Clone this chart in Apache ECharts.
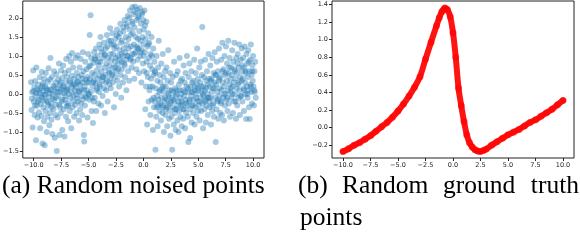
<!DOCTYPE html>
<html><head><meta charset="utf-8">
<script src="https://cdn.jsdelivr.net/npm/echarts@6/dist/echarts.min.js"></script>
<style>html,body{margin:0;padding:0;background:#fff}#c{width:580px;height:240px}</style>
</head><body><div id="c"></div>
<script>
const xTicks = [-10, -7.5, -5, -2.5, 0, 2.5, 5, 7.5, 10];
const yTicksNoised = [-1.5, -1, -0.5, 0, 0.5, 1, 1.5, 2];
const yTicksTruth = [-0.2, 0, 0.2, 0.4, 0.6, 0.8, 1.0, 1.2, 1.4];

const noisedPoints = [
[-10.25,0.31],[-10.2,-0.42],[-10.15,0.05],[-10.1,-0.88],[-10.05,0.62],[-10.0,-0.2],[-9.95,0.18],[-9.92,-0.55],[-9.88,0.34],[-9.85,-0.05],[-9.8,-1.22],[-9.76,0.7],[-9.72,-0.31],[-9.7,0.12],[-9.65,-0.62],[-9.6,0.25],[-9.56,-0.15],[-9.52,-0.48],
[-9.48,0.02],[-9.45,0.44],[-9.42,-0.9],[-9.38,-0.26],[-9.35,0.15],[-9.3,-0.58],[-9.27,0.58],[-9.24,-0.1],[-9.2,-1.3],[-9.17,0.28],[-9.12,-0.35],[-9.1,0.08],[-9.06,-0.72],[-9.04,0.4],[-9.02,-0.02],[-9.0,-1.35],
[-8.97,0.2],[-8.93,-0.45],[-8.9,0.55],[-8.86,-0.18],[-8.82,-1.0],[-8.8,0.1],[-8.76,-0.6],[-8.72,0.32],[-8.68,-0.3],[-8.65,0.68],[-8.6,-0.08],[-8.58,-0.82],[-8.55,0.02],[-8.52,0.38],[-8.5,-0.5],
[-8.48,0.95],[-8.45,-0.25],[-8.42,0.12],[-8.38,-0.68],[-8.35,0.45],[-8.3,-1.05],[-8.27,-0.12],[-8.22,0.22],[-8.2,-0.4],[-8.15,0.6],[-8.12,-0.15],[-8.08,-1.15],[-8.05,0.05],[-8.02,-0.55],[-8.0,0.3],
[-7.97,-0.28],[-7.93,0.52],[-7.9,-1.5],[-7.86,0.15],[-7.82,-0.62],[-7.78,0.38],[-7.75,-0.05],[-7.7,0.8],[-7.66,-1.08],[-7.62,0.25],[-7.6,-0.35],[-7.56,0.05],[-7.53,-0.5],[-7.51,0.62],[-7.5,0.12],
[-7.46,-0.2],[-7.42,0.42],[-7.4,-0.95],[-7.36,0.18],[-7.32,0.75],[-7.28,-0.4],[-7.25,0.02],[-7.2,-1.12],[-7.16,0.55],[-7.12,-0.15],[-7.1,0.3],[-7.06,-0.6],[-7.04,0.92],[-7.02,0.08],[-7.0,-0.32],
[-6.97,0.45],[-6.93,-0.25],[-6.9,0.15],[-6.86,-0.72],[-6.82,0.62],[-6.8,0.0],[-6.76,1.0],[-6.72,-0.45],[-6.68,0.3],[-6.65,-0.1],[-6.6,0.85],[-6.58,-0.9],[-6.55,0.2],[-6.52,0.48],[-6.5,1.08],
[-6.47,-0.35],[-6.44,0.25],[-6.4,0.7],[-6.36,-0.05],[-6.32,-0.6],[-6.3,0.4],[-6.26,0.1],[-6.22,-0.28],[-6.18,0.95],[-6.15,0.18],[-6.1,-0.5],[-6.08,0.55],[-6.04,-0.12],[-6.02,0.32],[-6.0,1.02],
[-5.97,-0.2],[-5.94,0.45],[-5.9,0.05],[-5.86,-0.7],[-5.82,0.7],[-5.8,0.25],[-5.76,-0.4],[-5.72,0.92],[-5.68,0.12],[-5.65,-0.05],[-5.62,0.5],[-5.58,-0.55],[-5.55,0.3],[-5.52,1.1],[-5.5,-0.15],
[-5.46,0.6],[-5.43,-1.08],[-5.4,-1.25],[-5.37,0.2],[-5.33,-0.3],[-5.3,0.85],[-5.26,0.38],[-5.22,-0.1],[-5.18,0.65],[-5.15,0.1],[-5.1,-0.62],[-5.08,0.45],[-5.04,1.05],[-5.02,0.0],[-5.0,0.3],
[-4.96,0.72],[-4.92,-0.15],[-4.9,1.55],[-4.86,0.4],[-4.82,2.07],[-4.8,0.05],[-4.76,0.95],[-4.72,-0.45],[-4.68,0.55],[-4.64,0.2],[-4.6,-0.76],[-4.57,0.82],[-4.54,0.35],[-4.52,-0.2],[-4.5,1.1],
[-4.47,0.5],[-4.43,-0.1],[-4.4,0.9],[-4.36,0.28],[-4.32,1.2],[-4.3,-0.45],[-4.26,0.62],[-4.22,0.15],[-4.18,1.0],[-4.15,0.4],[-4.1,-0.25],[-4.08,0.75],[-4.04,0.05],[-4.02,1.3],[-4.0,0.48],
[-3.97,0.2],[-3.93,0.85],[-3.9,1.5],[-3.86,-0.3],[-3.82,0.6],[-3.8,1.1],[-3.76,0.35],[-3.72,-0.05],[-3.68,0.95],[-3.65,0.45],[-3.6,1.35],[-3.58,0.15],[-3.55,0.7],[-3.52,-0.5],[-3.5,1.02],
[-3.46,0.5],[-3.43,1.2],[-3.4,0.1],[-3.37,0.8],[-3.33,1.55],[-3.3,0.35],[-3.26,-0.2],[-3.22,0.95],[-3.18,0.62],[-3.15,1.4],[-3.1,0.25],[-3.08,0.75],[-3.04,1.73],[-3.02,0.4],[-3.0,1.05],
[-2.97,0.15],[-2.94,0.9],[-2.9,1.3],[-2.86,0.55],[-2.82,1.6],[-2.8,0.3],[-2.76,1.05],[-2.72,0.7],[-2.68,-0.35],[-2.65,1.2],[-2.6,0.85],[-2.58,0.45],[-2.55,1.45],[-2.52,0.0],[-2.5,0.95],
[-2.46,1.25],[-2.43,0.6],[-2.4,1.7],[-2.37,0.35],[-2.33,1.0],[-2.3,0.78],[-2.26,1.5],[-2.22,0.2],[-2.18,1.15],[-2.15,0.9],[-2.1,1.85],[-2.08,0.5],[-2.04,1.35],[-2.02,-0.1],[-2.0,1.05],
[-1.97,0.65],[-1.94,1.4],[-1.9,1.0],[-1.86,0.3],[-1.82,1.65],[-1.8,1.2],[-1.76,0.8],[-1.72,1.95],[-1.68,0.45],[-1.65,1.1],[-1.6,1.5],[-1.58,0.9],[-1.55,0.1],[-1.52,1.3],[-1.5,1.78],
[-1.46,1.0],[-1.43,2.05],[-1.4,0.6],[-1.37,1.45],[-1.33,1.2],[-1.3,0.35],[-1.26,1.7],[-1.22,2.2],[-1.18,0.9],[-1.15,1.55],[-1.1,1.25],[-1.08,0.7],[-1.04,1.9],[-1.02,1.05],[-1.0,2.28],
[-0.97,1.6],[-0.94,0.85],[-0.9,2.1],[-0.87,1.3],[-0.83,0.4],[-0.8,1.75],[-0.76,2.3],[-0.72,1.1],[-0.68,1.5],[-0.65,0.65],[-0.6,1.95],[-0.58,1.25],[-0.55,2.22],[-0.52,0.9],[-0.5,1.45],
[-0.47,2.0],[-0.43,1.2],[-0.4,0.55],[-0.37,1.65],[-0.33,2.26],[-0.3,1.0],[-0.26,1.4],[-0.22,1.85],[-0.18,0.3],[-0.15,1.15],[-0.1,2.15],[-0.08,1.5],[-0.04,0.8],[-0.02,1.95],[0.0,1.3],
[0.03,1.7],[0.06,0.6],[0.1,2.2],[0.13,1.1],[0.17,-0.4],[0.2,1.45],[0.24,0.2],[0.27,1.9],[0.3,0.85],[0.34,-0.8],[0.37,1.25],[0.4,0.45],[0.44,1.6],[0.47,-0.2],[0.5,0.95],
[0.53,1.35],[0.56,0.1],[0.6,0.75],[0.63,-0.55],[0.67,1.05],[0.7,0.4],[0.74,1.5],[0.77,-0.15],[0.8,0.65],[0.84,0.2],[0.87,-0.95],[0.9,1.2],[0.94,0.5],[0.97,-0.35],[1.0,0.85],
[1.03,-0.2],[1.06,0.6],[1.1,-1.47],[1.13,0.15],[1.17,-0.6],[1.2,1.0],[1.24,-0.05],[1.27,0.35],[1.3,-0.85],[1.34,0.7],[1.37,-0.3],[1.4,1.4],[1.44,0.05],[1.47,-0.45],[1.5,0.5],
[1.53,-0.25],[1.56,0.3],[1.6,-0.7],[1.63,0.8],[1.67,-0.1],[1.7,0.15],[1.74,-0.5],[1.77,1.05],[1.8,-0.35],[1.84,0.45],[1.87,-1.0],[1.9,0.05],[1.94,-0.2],[1.97,0.6],[2.0,-0.55],
[2.03,0.2],[2.06,-0.4],[2.1,0.7],[2.13,-0.15],[2.17,-0.85],[2.2,0.35],[2.24,-0.3],[2.27,1.15],[2.3,-0.05],[2.34,-0.65],[2.37,0.1],[2.4,-0.45],[2.44,0.55],[2.47,-1.1],[2.5,-0.2],
[2.53,0.3],[2.56,-0.6],[2.6,-0.1],[2.63,-1.47],[2.67,0.45],[2.7,-0.35],[2.74,0.05],[2.77,-0.8],[2.8,0.85],[2.84,-0.2],[2.87,-0.5],[2.9,0.15],[2.94,-0.95],[2.97,-0.05],[3.0,0.5],
[3.03,-0.4],[3.06,0.1],[3.1,-0.7],[3.13,0.6],[3.17,-0.2],[3.2,-1.0],[3.24,0.25],[3.27,-0.45],[3.3,0.95],[3.34,-0.1],[3.37,-0.6],[3.4,0.35],[3.44,-0.3],[3.47,0.0],[3.5,-0.85],
[3.53,0.4],[3.56,-0.25],[3.6,0.1],[3.63,-0.65],[3.67,0.75],[3.7,-0.4],[3.74,-0.05],[3.77,0.3],[3.8,-0.9],[3.84,0.55],[3.87,-0.15],[3.9,-0.5],[3.94,0.2],[3.97,1.0],[4.0,-0.3],
[4.03,0.05],[4.06,-0.6],[4.1,-1.26],[4.13,0.45],[4.17,-0.2],[4.2,0.8],[4.24,-0.4],[4.27,-1.16],[4.3,0.2],[4.34,-0.05],[4.37,0.6],[4.4,-0.75],[4.44,0.3],[4.47,-0.3],[4.5,0.05],
[4.53,-0.5],[4.56,0.35],[4.6,-0.15],[4.63,0.9],[4.67,-0.8],[4.7,0.1],[4.74,-0.35],[4.77,0.55],[4.8,0.0],[4.84,-0.6],[4.87,0.25],[4.9,1.2],[4.94,-0.2],[4.97,0.4],[5.0,-0.45],
[5.03,0.15],[5.06,-0.3],[5.1,0.7],[5.13,-0.7],[5.17,0.3],[5.2,-0.1],[5.24,0.85],[5.27,-0.45],[5.3,0.05],[5.34,0.5],[5.37,1.76],[5.4,-0.25],[5.44,-0.9],[5.47,0.2],[5.5,-0.05],
[5.53,0.45],[5.56,-0.4],[5.6,0.1],[5.63,0.9],[5.67,-0.15],[5.7,-0.75],[5.74,0.35],[5.77,-0.3],[5.8,0.6],[5.84,0.0],[5.87,-0.55],[5.9,0.25],[5.94,1.05],[5.97,-0.1],[6.0,0.4],
[6.03,-0.35],[6.06,0.2],[6.1,0.75],[6.13,-0.1],[6.17,-0.8],[6.2,0.4],[6.24,0.05],[6.27,-0.45],[6.3,0.95],[6.34,0.15],[6.37,-0.25],[6.4,0.55],[6.44,-0.6],[6.47,0.3],[6.5,1.1],
[6.53,-0.1],[6.56,0.5],[6.6,-1.26],[6.63,0.25],[6.67,-0.4],[6.7,0.85],[6.74,0.05],[6.77,-0.2],[6.8,0.6],[6.84,-0.65],[6.87,0.35],[6.9,1.2],[6.94,-0.05],[6.97,0.15],[7.0,-0.5],
[7.03,0.45],[7.06,-0.2],[7.1,0.9],[7.13,0.1],[7.17,-0.55],[7.2,1.35],[7.24,0.3],[7.27,-0.1],[7.3,0.65],[7.34,-0.7],[7.37,0.2],[7.4,1.0],[7.44,-0.3],[7.47,0.5],[7.5,0.0],
[7.53,1.25],[7.56,-0.15],[7.6,0.35],[7.63,0.8],[7.67,-0.45],[7.7,0.1],[7.74,1.4],[7.77,0.55],[7.8,-0.25],[7.84,0.25],[7.87,0.95],[7.9,-0.6],[7.94,0.4],[7.97,0.05],[8.0,0.7],
[8.03,-0.1],[8.06,0.5],[8.1,1.15],[8.13,0.2],[8.17,-0.5],[8.2,0.85],[8.24,0.3],[8.27,-0.2],[8.3,1.35],[8.34,0.6],[8.37,0.0],[8.4,0.4],[8.44,-0.65],[8.47,0.95],[8.5,0.15],
[8.53,0.55],[8.56,-0.3],[8.6,1.05],[8.63,0.25],[8.67,-0.1],[8.7,0.7],[8.74,1.3],[8.77,0.1],[8.8,-0.55],[8.84,0.45],[8.87,0.9],[8.9,-0.05],[8.94,0.35],[8.97,1.2],[9.0,0.6],
[9.03,-0.2],[9.06,0.4],[9.1,0.95],[9.13,0.15],[9.17,-0.45],[9.2,0.7],[9.24,1.25],[9.27,0.3],[9.3,0.0],[9.34,0.55],[9.37,-0.66],[9.4,1.05],[9.44,0.2],[9.47,0.8],[9.5,-0.1],
[9.53,0.45],[9.56,1.15],[9.6,0.1],[9.63,-0.35],[9.67,0.6],[9.7,-0.66],[9.74,0.9],[9.77,0.25],[9.8,1.3],[9.84,0.05],[9.87,0.5],[9.9,-0.25],[9.94,0.75],[9.97,0.35],[10.0,1.0],
[10.04,0.2],[10.08,-0.3],[10.12,0.6],[10.16,0.05],[10.2,0.85],[10.25,-0.1],
[-10.18,-0.12],[-10.02,0.08],[-9.9,-0.3],[-9.78,0.02],[-9.62,-0.2],[-9.5,0.1],[-9.33,-0.05],[-9.22,0.22],[-9.08,-0.18],[-8.95,-0.02],[-8.84,0.15],[-8.7,-0.22],[-8.57,0.1],[-8.4,-0.35],[-8.25,0.0],[-8.1,0.18],[-7.95,-0.1],[-7.8,0.05],[-7.68,-0.28],[-7.55,0.3],[-7.4,-0.15],[-7.26,0.2],[-7.14,-0.05],[-6.98,0.12],[-6.85,-0.3],[-6.7,0.35],[-6.56,0.05],[-6.42,-0.2],[-6.28,0.25],[-6.12,-0.02],[-5.98,0.3],[-5.84,0.08],[-5.7,-0.25],[-5.56,0.4],[-5.42,0.1],[-5.28,-0.05],[-5.12,0.3],
[-4.98,0.0],[-4.84,0.75],[-4.7,-0.1],[-4.56,0.3],[-4.42,0.95],[-4.28,0.1],[-4.12,0.85],[-3.98,0.25],[-3.84,1.2],[-3.7,0.45],[-3.56,1.05],[-3.42,0.3],[-3.28,1.25],[-3.12,0.55],[-2.98,1.4],[-2.84,0.5],[-2.7,1.3],[-2.56,0.7],[-2.42,1.55],[-2.28,0.65],[-2.14,1.6],[-1.98,0.85],[-1.84,1.75],[-1.7,0.75],[-1.56,1.85],[-1.42,1.0],[-1.28,2.0],[-1.14,0.95],[-0.98,1.85],[-0.84,1.05],[-0.7,2.15],[-0.56,1.2],[-0.42,2.05],[-0.28,1.1],[-0.14,2.1],[0.02,1.0],[0.16,1.8],[0.3,0.55],[0.46,1.3],[0.62,0.2],[0.78,1.0],[0.92,-0.1],[1.08,0.55],[1.22,-0.35],
[1.38,-0.15],[1.52,0.1],[1.68,-0.3],[1.82,0.2],[1.98,-0.1],[2.12,-0.35],[2.28,0.0],[2.42,-0.25],[2.58,0.1],[2.72,-0.15],[2.88,-0.4],[3.02,0.0],[3.18,-0.3],[3.32,0.1],[3.48,-0.2],[3.62,-0.4],[3.78,0.05],[3.92,-0.25],[4.08,0.15],[4.22,-0.15],[4.38,0.05],[4.52,-0.3],[4.68,0.2],[4.82,-0.1],[4.98,0.1],[5.12,-0.2],[5.28,0.2],[5.42,0.0],[5.58,-0.2],[5.72,0.15],[5.88,-0.1],
[6.02,-0.2],[6.18,0.35],[6.32,-0.3],[6.48,0.15],[6.62,0.5],[6.78,-0.15],[6.92,0.4],[7.08,-0.25],[7.22,0.6],[7.38,0.0],[7.52,0.55],[7.68,-0.1],[7.82,0.7],[7.98,0.15],[8.12,0.0],[8.28,0.65],[8.42,-0.2],[8.58,0.8],[8.72,0.3],[8.88,-0.05],[9.02,0.75],[9.18,0.1],[9.32,0.6],[9.48,0.0],[9.62,0.85],[9.78,0.2],[9.92,0.6],[10.1,0.1]
];

const truthX = [-10,-9.5,-9,-8.5,-8,-7.5,-7,-6.5,-6,-5.5,-5,-4.5,-4,-3.5,-3,-2.5,-2,-1.5,-1.25,-1,-0.75,-0.5,-0.25,0,0.25,0.5,0.75,1,1.25,1.5,1.75,2,2.25,2.5,2.75,3,3.5,4,4.5,5,5.5,6,6.5,7,7.5,8,8.5,9,9.5,10];
const truthY = [-0.27,-0.24,-0.2,-0.17,-0.13,-0.09,-0.04,0.01,0.06,0.12,0.19,0.27,0.36,0.46,0.58,0.78,0.97,1.16,1.25,1.32,1.36,1.34,1.26,1.08,0.8,0.45,0.25,0.07,-0.08,-0.17,-0.22,-0.25,-0.265,-0.27,-0.26,-0.245,-0.2,-0.16,-0.12,-0.08,-0.05,-0.02,0.02,0.06,0.09,0.13,0.17,0.21,0.26,0.31];

const captionA = '(a) Random noised points';
const captionBWords = ['(b)', 'Random', 'ground', 'truth'];
const captionBLine2 = 'points';

const fmt = v => (v < 0 ? '\u2212' : '') + Math.abs(v).toFixed(1);
const tickFont = { fontSize: 6.5, color: '#222', fontFamily: 'DejaVu Sans' };

function xAxisFor(gi) {
  return {
    gridIndex: gi, type: 'value', min: -11, max: 11,
    splitLine: { show: false },
    axisLine: { show: false, onZero: false },
    axisTick: { show: true, inside: false, length: 3, customValues: xTicks, lineStyle: { color: '#222', width: 1 } },
    axisLabel: Object.assign({ customValues: xTicks, formatter: fmt, margin: 4 }, tickFont)
  };
}
function yAxisFor(gi, min, max, ticks) {
  return {
    gridIndex: gi, type: 'value', min: min, max: max,
    splitLine: { show: false },
    axisLine: { show: false, onZero: false },
    axisTick: { show: true, inside: false, length: 3, customValues: ticks, lineStyle: { color: '#222', width: 1 } },
    axisLabel: Object.assign({ customValues: ticks, formatter: fmt, margin: 4 }, tickFont)
  };
}

const chart = echarts.init(document.getElementById('c'), null, { renderer: 'canvas' });
const serif = '"Liberation Serif", "Times New Roman", serif';
const capFont = '25.5px ' + serif;
function cap(text, x, y, align) {
  return { type: 'text', x: x, y: y, style: { text: text, font: capFont, fill: '#000', verticalAlign: 'middle', align: align } };
}
const graphics = [
  cap(captionA, 2, 186, 'left'),
  cap(captionBWords[0], 298, 186, 'left'),
  cap(captionBWords[1], 342, 186, 'left'),
  cap(captionBWords[2], 443, 186, 'left'),
  cap(captionBWords[3], 579, 186, 'right'),
  cap(captionBLine2, 300, 218, 'left')
];

chart.setOption({
  animation: false,
  backgroundColor: '#fff',
  grid: [
    { left: 22, top: 1, width: 242, height: 157, show: true, borderColor: '#222', borderWidth: 1, backgroundColor: 'transparent' },
    { left: 332, top: 1, width: 242, height: 157, show: true, borderColor: '#222', borderWidth: 1, backgroundColor: 'transparent' }
  ],
  xAxis: [xAxisFor(0), xAxisFor(1)],
  yAxis: [yAxisFor(0, -1.684, 2.447, yTicksNoised), yAxisFor(1, -0.344, 1.44, yTicksTruth)],
  series: [
    {
      type: 'scatter', xAxisIndex: 0, yAxisIndex: 0, data: noisedPoints,
      symbol: 'circle', symbolSize: 6, silent: true,
      itemStyle: { color: '#1f77b4', opacity: 0.4 }
    },
    {
      type: 'line', xAxisIndex: 1, yAxisIndex: 1,
      data: truthX.map((x, i) => [x, truthY[i]]),
      smooth: 0.3, showSymbol: true, symbol: 'circle', symbolSize: 7, silent: true,
      lineStyle: { color: '#ff0000', width: 6, opacity: 0.92, cap: 'round' },
      itemStyle: { color: '#ff0000', opacity: 0.6 }
    }
  ],
  graphic: graphics
});
</script>
</body></html>
